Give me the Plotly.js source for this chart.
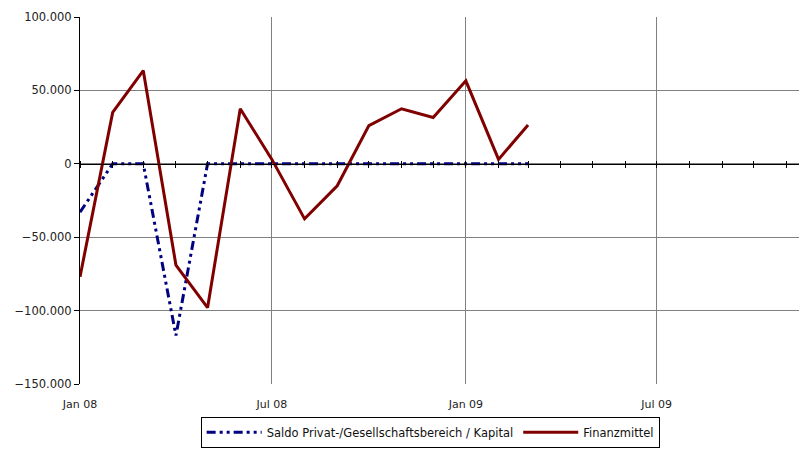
<!DOCTYPE html>
<html>
<head>
<meta charset="utf-8">
<script src="https://cdn.plot.ly/plotly-3.0.1.min.js"></script>
<style>html,body{margin:0;padding:0;background:#fff;}#chart{width:799px;height:450px;}</style>
</head>
<body>
<div id="chart"></div>
<script>
const months = ["2008-01-01","2008-02-01","2008-03-01","2008-04-01","2008-05-01","2008-06-01","2008-07-01","2008-08-01","2008-09-01","2008-10-01","2008-11-01","2008-12-01","2009-01-01","2009-02-01","2009-03-01"];
const saldo = [-33000, 0, 0, -117000, 0, 0, 0, 0, 0, 0, 0, 0, 0, 0, 0];
const finanzmittel = [-77000, 35000, 63500, -69000, -98000, 37500, 3000, -37500, -15000, 26000, 37500, 31500, 56500, 3000, 26500];
const seriesNames = ["Saldo Privat-/Gesellschaftsbereich / Kapital", "Finanzmittel"];
const yTicks = [-150000, -100000, -50000, 0, 50000, 100000];
const xRange = ["2008-01-01", "2009-11-13"];

const font = {family: "DejaVu Sans, Liberation Sans, Arial, sans-serif", size: 11, color: "#222"};

const traces = [
  {x: months, y: saldo, name: seriesNames[0], type: "scatter", mode: "lines",
   line: {color: "#000080", width: 3, dash: "9px,4px,3px,4px,3px,4px"}},
  {x: months, y: finanzmittel, name: seriesNames[1], type: "scatter", mode: "lines",
   line: {color: "#800000", width: 3}},
  {x: xRange, y: [null, null], xaxis: "x2", showlegend: false, hoverinfo: "skip", mode: "lines"},
  {x: xRange, y: [null, null], xaxis: "x3", showlegend: false, hoverinfo: "skip", mode: "lines"}
];

const layout = {
  width: 799, height: 450,
  margin: {l: 80, r: 0, t: 17, b: 66, autoexpand: false},
  paper_bgcolor: "#fff", plot_bgcolor: "#fff",
  separators: ",.",
  font: font,
  showlegend: true,
  legend: {orientation: "h", x: 0.487, xanchor: "center", y: -0.174, yanchor: "bottom",
    bordercolor: "#000", borderwidth: 1, font: {family: font.family, size: 11.5, color: "#111"},
    itemwidth: 55, tracegroupgap: 0},
  xaxis: {type: "date", range: xRange, dtick: "M6", tick0: "2008-01-01", tickformat: "%b %y",
    showgrid: true, gridcolor: "#808080", gridwidth: 1, zeroline: false, showline: false,
    ticks: "", tickfont: font, ticklabelstandoff: 12, fixedrange: true},
  xaxis2: {type: "date", range: xRange, overlaying: "x", anchor: "free", position: 0.6, side: "bottom",
    dtick: "M1", tick0: "2008-01-01", ticks: "outside", ticklen: 3, tickwidth: 1, tickcolor: "#000",
    showticklabels: false, showgrid: false, zeroline: false, showline: true, linecolor: "#000", linewidth: 1},
  xaxis3: {type: "date", range: xRange, overlaying: "x", anchor: "free", position: 0.6, side: "top",
    dtick: "M1", tick0: "2008-01-01", ticks: "outside", ticklen: 3, tickwidth: 1, tickcolor: "#000",
    showticklabels: false, showgrid: false, zeroline: false, showline: false},
  yaxis: {range: [-150000, 100000], tickvals: yTicks, tickformat: ",d",
    showgrid: true, gridcolor: "#808080", gridwidth: 1, zeroline: false,
    showline: true, linecolor: "#000", linewidth: 1, ticks: "outside", ticklen: 5, tickcolor: "#000",
    tickfont: {family: font.family, size: 11.5, color: "#222"}, fixedrange: true}
};

Plotly.newPlot("chart", traces, layout, {displayModeBar: false, staticPlot: true});
</script>
</body>
</html>
